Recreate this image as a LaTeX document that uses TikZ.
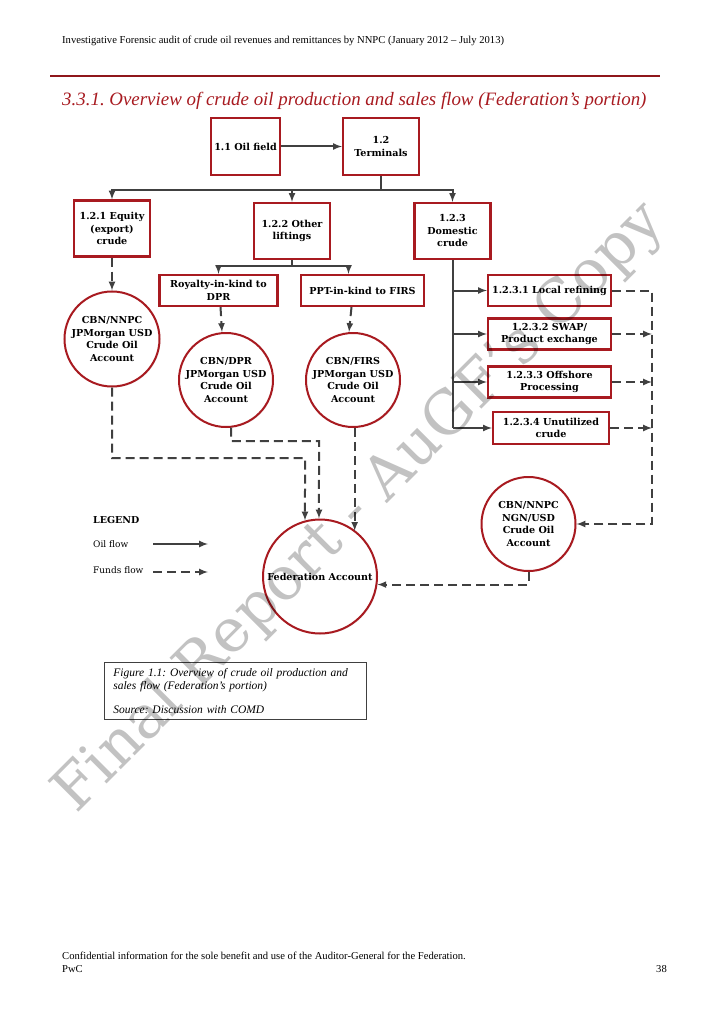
\documentclass[tikz,border=0pt]{standalone}
\usepackage{xcolor}
\usepackage{fontspec}
\setmainfont{DejaVu Serif}
\newfontfamily\pagefont{Liberation Serif}
\usepackage{tikz}
\usetikzlibrary{arrows}
\usetikzlibrary{arrows.meta}
\usetikzlibrary{positioning}
\usetikzlibrary{shapes.geometric}
\usetikzlibrary{shadows}
\tikzset{>=latex}
\frenchspacing
\definecolor{pwcred}{RGB}{168,26,32}
\definecolor{flowgray}{RGB}{64,64,64}
\newcommand{\boxfont}{\fontsize{9.6}{12.5}\selectfont\bfseries}
\tikzstyle{box} = [draw=pwcred, line width=2.2pt, fill=white, align=center, inner sep=1, font=\boxfont, drop shadow={shadow xshift=1.2pt, shadow yshift=-1.2pt, opacity=0.2}]
\tikzstyle{acct} = [circle, draw=pwcred, line width=2pt, fill=white, align=center, inner sep=-5pt, font=\boxfont, drop shadow={shadow xshift=1pt, shadow yshift=-1pt, opacity=0.15}]
\tikzstyle{oil} = [-latex, draw=flowgray, line width=2pt]
\tikzstyle{funds} = [-latex, draw=flowgray, line width=2pt, dash pattern=on 9pt off 5pt]

\begin{document}
\begin{tikzpicture}[x=1pt, y=-1pt]
\useasboundingbox [fill=white] (0,0) rectangle (723,1024);

% page head
\node [anchor=west, inner sep=0, font=\pagefont\fontsize{10.6}{12}\selectfont] (HD) at (62,41) {Investigative Forensic audit of crude oil revenues and remittances by NNPC (January 2012 – July 2013)};
\draw [draw=pwcred!85!black, line width=1.1pt] (50,76) -- (660,76);
\node [anchor=west, inner sep=0, text=pwcred, font=\pagefont\itshape\fontsize{18.9}{21}\selectfont] (TT) at (62,101) {3.3.1. Overview of crude oil production and sales flow (Federation’s portion)};

% boxes
\node [box, minimum width=69, minimum height=57] (OF) at (245.5,146.5) {1.1 Oil field};
\node [box, minimum width=76, minimum height=57] (TM) at (381,146.5) {1.2\\Terminals};
\node [box, minimum width=76, minimum height=56] (EQ) at (112,228.5) {1.2.1 Equity\\(export)\\crude};
\node [box, minimum width=76, minimum height=56] (OL) at (292,231) {1.2.2 Other\\liftings};
\node [box, minimum width=76, minimum height=56] (DC) at (452.5,231) {1.2.3\\Domestic\\crude};
\node [box, minimum width=118, minimum height=31] (RK) at (218.5,290.5) {Royalty-in-kind to\\DPR};
\node [box, minimum width=123, minimum height=31] (PK) at (362.5,290.5) {PPT-in-kind to FIRS};
\node [box, minimum width=123, minimum height=31] (LR) at (549.5,290.5) {1.2.3.1 Local refining};
\node [box, minimum width=123, minimum height=31] (SW) at (549.5,334) {1.2.3.2 SWAP/\\Product exchange};
\node [box, minimum width=123, minimum height=31] (OP) at (549.5,382) {1.2.3.3 Offshore\\Processing};
\node [box, minimum width=116, minimum height=32] (UC) at (551,428) {1.2.3.4 Unutilized\\crude};

% accounts
\node [acct, minimum size=95] (CN) at (112,339) {CBN/NNPC\\JPMorgan USD\\Crude Oil\\Account};
\node [acct, minimum size=94] (CD) at (226,380) {CBN/DPR\\JPMorgan USD\\Crude Oil\\Account};
\node [acct, minimum size=94] (CF) at (353,380) {CBN/FIRS\\JPMorgan USD\\Crude Oil\\Account};
\node [acct, minimum size=114] (FA) at (320,576.5) {Federation Account};
\node [acct, minimum size=94] (NG) at (528.5,524) {CBN/NNPC\\NGN/USD\\Crude Oil\\Account};

% oil flow
\coordinate (b1) at (381,190);
\coordinate (b2) at (292,266);
\coordinate (d4) at (452.5,428);
\draw [oil] (OF) to (TM);
\draw [oil, -] (TM) to (b1);
\draw [oil] (b1) -| (EQ);
\draw [oil] (b1) -| (OL);
\draw [oil] (b1) -| (DC);
\draw [oil, -] (OL) to (b2);
\draw [oil] (b2) -| (RK);
\draw [oil] (b2) -| ([xshift=-14pt]PK.north);
\draw [oil, -] (DC) to (d4);
\draw [oil] (DC |- LR) to (LR);
\draw [oil] (DC |- SW) to (SW);
\draw [oil] (DC |- OP) to (OP);
\draw [oil] (d4) to (UC);

% funds flow
\coordinate (r2) at (652,524);
\coordinate (j1) at (305,458);
\coordinate (j2) at (319,441);
\draw [funds] (EQ) to (CN);
\draw [funds] ([xshift=2pt]RK.south) to ([xshift=-4pt]CD.north);
\draw [funds] ([xshift=-11pt]PK.south) to ([xshift=-4pt]CF.north);
\draw [funds] (LR) -| (r2) to (NG);
\draw [funds] (SW) to (SW -| r2);
\draw [funds] (OP) to (OP -| r2);
\draw [funds] (UC) to (UC -| r2);
\draw [funds] (NG) |- (FA.352);
\draw [funds] (CN) |- (j1) to (FA.105);
\draw [funds] (CD.276) |- (j2) to (FA.91);
\draw [funds] (CF.272) to (CF.272 |- FA.52);

% legend
\node [anchor=west, inner sep=0, font=\fontsize{9.5}{11}\selectfont\bfseries] (LG) at (93,520) {LEGEND};
\node [anchor=west, inner sep=0, font=\fontsize{9}{11}\selectfont] (LO) at (93,544) {Oil flow};
\node [anchor=west, inner sep=0, font=\fontsize{9}{11}\selectfont] (LF) at (93,570) {Funds flow};
\coordinate (lo1) at (153,544);
\coordinate (lo2) at (208,544);
\coordinate (lf1) at (153,572);
\coordinate (lf2) at (208,572);
\draw [oil] (lo1) to (lo2);
\draw [funds] (lf1) to (lf2);

% caption
\node [draw=black!75, line width=0.6pt, anchor=north west, text width=244, inner xsep=9, inner ysep=4, minimum height=57.5, align=left, font=\pagefont\itshape\fontsize{11.5}{13}\selectfont] (CP) at (104,661.5) {Figure 1.1: Overview of crude oil production and\\sales flow (Federation’s portion)\\[11pt]Source: Discussion with COMD};

% page foot
\node [anchor=west, inner sep=0, font=\pagefont\fontsize{10.6}{12}\selectfont] (FT) at (62,956) {Confidential information for the sole benefit and use of the Auditor-General for the Federation.};
\node [anchor=west, inner sep=0, font=\pagefont\fontsize{10.6}{12}\selectfont] (PW) at (62,969) {PwC};
\node [anchor=east, inner sep=0, font=\pagefont\fontsize{10.6}{12}\selectfont] (PG) at (667,969) {38};

% watermark
\node [rotate=45, text=black, opacity=0.24, font=\fontsize{60}{64}\selectfont] (WM) at (360,508) {Final Report - AuGF’s Copy};
\end{tikzpicture}
\end{document}
